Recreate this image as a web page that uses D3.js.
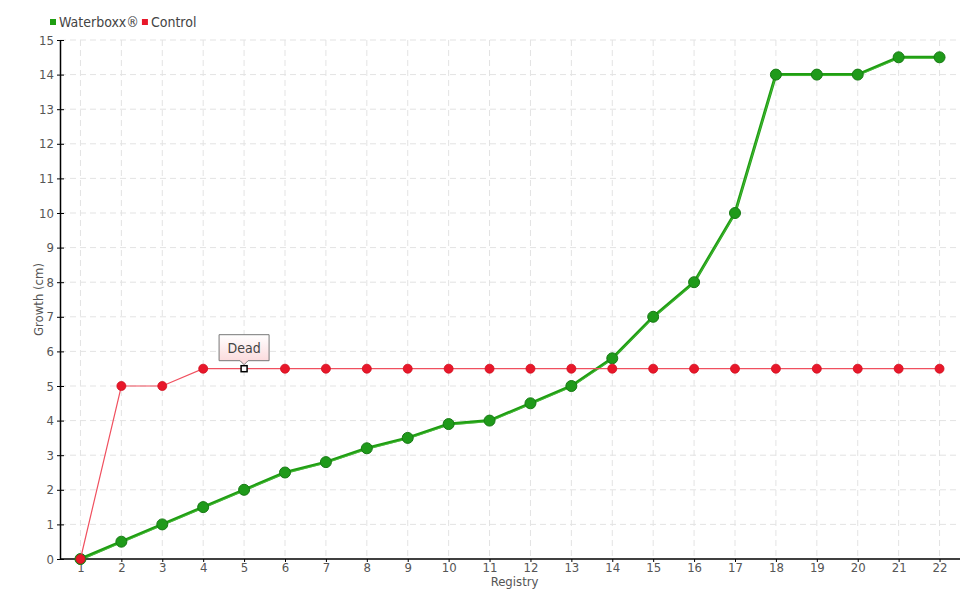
<!DOCTYPE html>
<html lang="en">
<head>
<meta charset="UTF-8">
<title>Waterboxx growth</title>
<script src="https://d3js.org/d3.v7.min.js"></script>
<style>
  body { margin: 0; background: #fff; }
  text { font-family: "Liberation Sans Narrow", "DejaVu Sans Condensed", sans-serif; }
</style>
</head>
<body>
<div id="chart"></div>
<script>
// data
const registry = d3.range(1, 23).map(String);
const waterboxx = [0, 0.5, 1, 1.5, 2, 2.5, 2.8, 3.2, 3.5, 3.9, 4, 4.5, 5, 5.8, 7, 8, 10, 14, 14, 14, 14.5, 14.5];
const control = [0, 5, 5, 5.5, 5.5, 5.5, 5.5, 5.5, 5.5, 5.5, 5.5, 5.5, 5.5, 5.5, 5.5, 5.5, 5.5, 5.5, 5.5, 5.5, 5.5, 5.5];
const yTicks = d3.range(0, 16);
const deadIndex = 4;

const width = 980, height = 600;
const margin = {top: 40, right: 20, bottom: 41, left: 60};
const font = "'Liberation Sans Narrow', 'DejaVu Sans Condensed', sans-serif";

const svg = d3.select("#chart").append("svg")
    .attr("width", width)
    .attr("height", height);

const x = d3.scalePoint()
    .domain(registry)
    .range([margin.left, width - margin.right])
    .padding(0.5);

const y = d3.scaleLinear()
    .domain([0, 15])
    .range([height - margin.bottom, margin.top]);

// grid
svg.append("g")
    .selectAll("line")
    .data(yTicks.slice(1))
    .join("line")
    .attr("x1", margin.left).attr("x2", width - margin.right)
    .attr("y1", d => y(d)).attr("y2", d => y(d))
    .attr("stroke", "#e3e3e3").attr("stroke-dasharray", "6,4");

svg.append("g")
    .selectAll("line")
    .data(registry)
    .join("line")
    .attr("x1", d => x(d)).attr("x2", d => x(d))
    .attr("y1", margin.top).attr("y2", height - margin.bottom)
    .attr("stroke", "#e3e3e3").attr("stroke-dasharray", "6,4");

// axes
const xAxis = svg.append("g")
    .attr("transform", `translate(0,${height - margin.bottom})`)
    .call(d3.axisBottom(x).tickSize(3).tickPadding(1).tickSizeOuter(0));
xAxis.select(".domain").attr("d", `M${margin.left},0H${width - margin.right}`).attr("stroke", "#000").attr("stroke-width", 1.5);

const yAxis = svg.append("g")
    .attr("transform", `translate(${margin.left},0)`)
    .call(d3.axisLeft(y).tickValues(yTicks).tickSize(4).tickSizeOuter(0));
yAxis.select(".domain").attr("stroke", "#000").attr("stroke-width", 1.5);
yAxis.selectAll(".tick line").attr("x2", 4).attr("x1", -3).attr("stroke", "#000");

svg.selectAll(".tick text")
    .attr("fill", "#555")
    .attr("font-size", 13)
    .attr("font-family", font);
yAxis.selectAll(".tick text").attr("x", -6);

svg.append("text")
    .attr("x", x("11") + 25).attr("y", height - 14)
    .attr("text-anchor", "middle")
    .attr("fill", "#555").attr("font-size", 13)
    .text("Registry");

svg.append("text")
    .attr("transform", `translate(43,${y(7.5)}) rotate(-90)`)
    .attr("text-anchor", "middle")
    .attr("fill", "#555").attr("font-size", 13)
    .text("Growth (cm)");

// lines
const line = d3.line()
    .x((d, i) => x(registry[i]))
    .y(d => y(d));

svg.append("path")
    .datum(waterboxx)
    .attr("fill", "none")
    .attr("stroke", "#1f9e12")
    .attr("stroke-width", 3)
    .attr("d", line);
svg.append("path")
    .datum(waterboxx)
    .attr("fill", "none")
    .attr("stroke", "#5ec84f")
    .attr("stroke-width", 1)
    .attr("transform", "translate(0,1)")
    .attr("opacity", 0.6)
    .attr("d", line);

svg.append("g")
    .selectAll("circle")
    .data(waterboxx)
    .join("circle")
    .attr("cx", (d, i) => x(registry[i]))
    .attr("cy", d => y(d))
    .attr("r", 5.5)
    .attr("fill", "#1f9a1a")
    .attr("stroke", "#177a14")
    .attr("stroke-width", 1);

svg.append("path")
    .datum(control)
    .attr("fill", "none")
    .attr("stroke", "#f0505f")
    .attr("stroke-width", 1.2)
    .attr("d", line);

// control points, the dead one is drawn as a square marker
const ctrl = svg.append("g");
ctrl.selectAll("circle")
    .data(control.map((v, i) => ({v, i})).filter(d => d.i !== deadIndex))
    .join("circle")
    .attr("cx", d => x(registry[d.i]))
    .attr("cy", d => y(d.v))
    .attr("r", 4.5)
    .attr("fill", "#e8172a")
    .attr("stroke", "#d0101f")
    .attr("stroke-width", 0.8);

ctrl.append("rect")
    .attr("x", x(registry[deadIndex]) - 3)
    .attr("y", y(control[deadIndex]) - 3)
    .attr("width", 6).attr("height", 6)
    .attr("fill", "#fff").attr("stroke", "#000").attr("stroke-width", 1.5);

// tooltip "Dead"
const defs = svg.append("defs");
const grad = defs.append("linearGradient").attr("id", "tipGrad").attr("x1", 0).attr("y1", 0).attr("x2", 0).attr("y2", 1);
grad.append("stop").attr("offset", "0%").attr("stop-color", "#ffffff");
grad.append("stop").attr("offset", "100%").attr("stop-color", "#fbd6d8");

const tx = x(registry[deadIndex]), ty = y(control[deadIndex]) - 6;
const th = 26;
const tip = svg.append("g");
tip.append("path")
    .attr("d", `M${tx - 25},${ty - th - 2}H${tx + 25}V${ty - 2}H${tx + 4}L${tx},${ty + 2}L${tx - 4},${ty - 2}H${tx - 25}Z`)
    .attr("fill", "url(#tipGrad)")
    .attr("stroke", "#777")
    .attr("stroke-width", 1);
tip.append("text")
    .attr("x", tx).attr("y", ty - th / 2 + 3)
    .attr("text-anchor", "middle")
    .attr("fill", "#444").attr("font-size", 14)
    .text("Dead");

// legend
const legend = svg.append("g").attr("transform", "translate(50,22)");
const items = [{name: "Waterboxx®", color: "#1f9e12"}, {name: "Control", color: "#e8172a"}];
let lx = 0;
items.forEach(it => {
    legend.append("rect").attr("x", lx).attr("y", -3).attr("width", 6).attr("height", 6).attr("fill", it.color);
    const t = legend.append("text").attr("x", lx + 9).attr("y", 5)
        .attr("fill", "#444").attr("font-size", 14).text(it.name);
    lx += t.node().getComputedTextLength() + 12;
});
</script>
</body>
</html>
